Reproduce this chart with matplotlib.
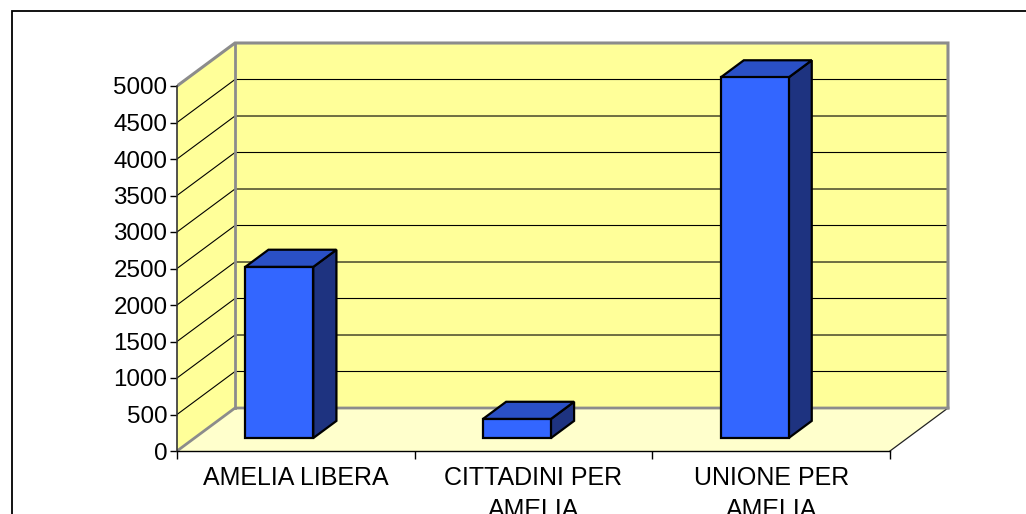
import matplotlib
matplotlib.use("Agg")
import matplotlib.pyplot as plt
from matplotlib.patches import Polygon, Rectangle

# ---- data ----
categories = ["AMELIA LIBERA", "CITTADINI PER\nAMELIA", "UNIONE PER\nAMELIA"]
values = [2345, 262, 4940]
y_ticks = list(range(0, 5001, 500))
y_max = 5000

# ---- style / geometry (projection of depth) ----
DX = 0.244      # depth offset along x (category units)
DY = 589.0      # depth offset along y (value units)
Z0, Z1 = 0.30, 0.70   # bar depth range
BAR_LEFT = 0.214      # bar left edge at depth 0 (relative to category start)
BAR_W = 0.286

wall_c = "#FFFF99"
floor_c = "#FFFFCC"
wall_edge = "#8C8C8C"
front_c = "#3366FF"
top_c = "#2A50C6"
side_c = "#1E3380"

plt.rcParams['font.family'] = ['Liberation Sans', 'DejaVu Sans']

fig = plt.figure(figsize=(10.26, 5.14), dpi=100)
ax = fig.add_axes([177/1026, 63/514, 784.3/1026, 416.1/514])
ax.set_xlim(0, 3.3)
ax.set_ylim(0, 5700)
ax.patch.set_alpha(0)

def P(x, v, z):
    return (x + z * DX, v + z * DY)

n = len(categories)

# floor
ax.add_patch(Polygon([P(0, 0, 0), P(n, 0, 0), P(n, 0, 1), P(0, 0, 1)],
                     closed=True, facecolor=floor_c, edgecolor='none', zorder=1))
ax.plot(*zip(P(n, 0, 0), P(n, 0, 1)), color='#222222', lw=0.9, zorder=2)

# left wall
ax.add_patch(Polygon([P(0, 0, 0), P(0, y_max, 0), P(0, y_max, 1), P(0, 0, 1)],
                     closed=True, facecolor=wall_c, edgecolor='none', zorder=1))
# back wall
ax.add_patch(Polygon([P(0, 0, 1), P(n, 0, 1), P(n, y_max, 1), P(0, y_max, 1)],
                     closed=True, facecolor=wall_c, edgecolor='none', zorder=1))

# gridlines
for t in y_ticks[1:]:
    pts = [P(0, t, 0), P(0, t, 1), P(n, t, 1)]
    ax.plot(*zip(*pts), color='black', lw=0.8, zorder=2)

# wall edges (grey)
ax.plot(*zip(P(0, 0, 0), P(0, 0, 1), P(n, 0, 1)), color=wall_edge, lw=2.0, zorder=3)
ax.plot(*zip(P(0, y_max, 0), P(0, y_max, 1), P(n, y_max, 1), P(n, 0, 1), P(n, 0, 1)),
        color=wall_edge, lw=2.2, zorder=3, solid_joinstyle='miter')
ax.plot(*zip(P(0, 0, 1), P(0, y_max, 1)), color=wall_edge, lw=2.0, zorder=3)

# bars
for i, v in enumerate(values):
    x0 = i + BAR_LEFT
    x1 = x0 + BAR_W
    front = [P(x0, 0, Z0), P(x1, 0, Z0), P(x1, v, Z0), P(x0, v, Z0)]
    top = [P(x0, v, Z0), P(x1, v, Z0), P(x1, v, Z1), P(x0, v, Z1)]
    side = [P(x1, 0, Z0), P(x1, 0, Z1), P(x1, v, Z1), P(x1, v, Z0)]
    for poly, col in ((side, side_c), (top, top_c), (front, front_c)):
        ax.add_patch(Polygon(poly, closed=True, facecolor=col, edgecolor='black',
                             lw=1.6, joinstyle='miter', zorder=5))

# axes / ticks
for s in ('top', 'right'):
    ax.spines[s].set_visible(False)
ax.spines['left'].set_bounds(0, y_max)
ax.spines['bottom'].set_bounds(0, n)
ax.spines['left'].set_color('#333333')
ax.spines['bottom'].set_color('black')
ax.spines['left'].set_linewidth(1.2)
ax.spines['bottom'].set_linewidth(1.0)
ax.spines['left'].set_zorder(4)
ax.spines['bottom'].set_zorder(4)

ax.set_yticks(y_ticks)
ax.set_yticklabels([str(t) for t in y_ticks])
ax.tick_params(axis='y', direction='out', length=5, width=1, pad=2,
               labelsize=17.4, colors='black')

ax.set_xticks(list(range(n + 1)))
ax.set_xticklabels([])
ax.set_xticks([i + 0.5 for i in range(n)], minor=True)
ax.set_xticklabels(categories, minor=True)
ax.tick_params(axis='x', which='major', direction='out', length=6, width=1)
ax.tick_params(axis='x', which='minor', length=0, pad=11, labelsize=18)
for lab in ax.get_xticklabels(minor=True):
    lab.set_linespacing(1.42)

# outer border
fig.patches.append(Rectangle((12/1026, -0.1), 1.2, (514 - 11)/514 + 0.1,
                             transform=fig.transFigure, fill=False,
                             edgecolor='black', lw=1.3))

fig.savefig("out.png", dpi=100)
